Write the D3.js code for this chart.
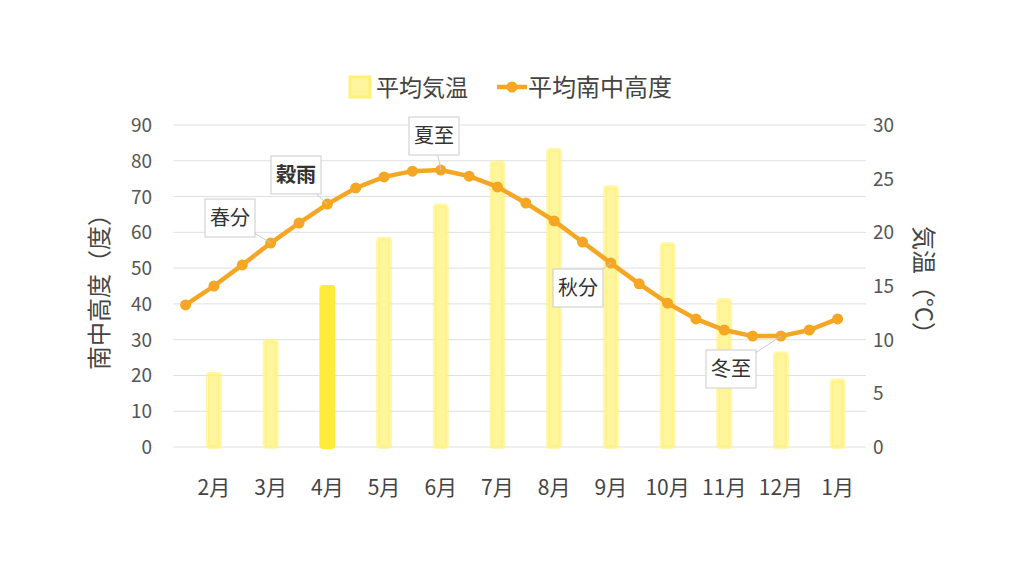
<!DOCTYPE html><html><head><meta charset="utf-8"><script src="https://cdn.jsdelivr.net/npm/d3@7"></script>
<style>body{margin:0;background:#fff;font-family:"Noto Sans CJK JP",sans-serif}</style></head><body><svg id="c" width="1024" height="576"></svg><script>
const months=["2月","3月","4月","5月","6月","7月","8月","9月","10月","11月","12月","1月"];
const temps=[6.8,9.9,14.9,19.4,22.5,26.5,27.7,24.2,18.9,13.7,8.7,6.2];
const altitude=[39.7,45,50.9,57,62.6,67.9,72.4,75.5,77.1,77.4,75.7,72.7,68.2,63.2,57.3,51.4,45.6,40.2,35.8,32.7,31,31,32.7,35.8];
const leftTicks=[0,10,20,30,40,50,60,70,80,90];
const rightTicks=[0,5,10,15,20,25,30];
const callouts=[{t:"春分",i:3,x:230,y:218,b:false},{t:"穀雨",i:5,x:296,y:175,b:true},{t:"夏至",i:9,x:434,y:136,b:false},{t:"秋分",i:15,x:578,y:288,b:false},{t:"冬至",i:21,x:731,y:369,b:false}];
const svg=d3.select("#c"),L=185.6,R=866,T=125,B=447;
const x=d3.scaleBand().domain(months).range([L,R]);
const xp=d3.scaleLinear().domain([0,1]).range([L,L+x.bandwidth()/2]);
const yl=d3.scaleLinear().domain([0,90]).range([B,T]);
const yr=d3.scaleLinear().domain([0,30]).range([B,T]);
svg.append("g").selectAll("line").data(leftTicks).join("line").attr("x1",L-12).attr("x2",R).attr("y1",d=>yl(d)).attr("y2",d=>yl(d)).attr("stroke","#e0e0e0");
svg.append("g").selectAll("text").data(leftTicks).join("text").attr("x",152).attr("y",d=>yl(d)+7).attr("text-anchor","end").attr("font-size",19).attr("fill","#555").text(d=>d);
svg.append("g").selectAll("text").data(rightTicks).join("text").attr("x",873).attr("y",d=>yr(d)+7).attr("font-size",19).attr("fill","#555").text(d=>d);
svg.append("g").selectAll("text").data(months).join("text").attr("x",d=>x(d)+x.bandwidth()/2).attr("y",495).attr("text-anchor","middle").attr("font-size",21).attr("fill","#444").text(d=>d);
svg.append("g").selectAll("rect").data(temps).join("rect").attr("x",(d,i)=>x(months[i])+x.bandwidth()/2-6).attr("width",12).attr("y",d=>yr(d)).attr("height",d=>B-yr(d)).attr("rx",2)
 .attr("fill",(d,i)=>i==2?"#ffeb3b":"#fff59d").attr("stroke",(d,i)=>i==2?"#ffeb3b":"#fff176").attr("stroke-opacity",(d,i)=>i==2?1:0.6).attr("stroke-width",4);
svg.append("path").datum(altitude).attr("d",d3.line().x((d,i)=>xp(i)).y(d=>yl(d))).attr("fill","none").attr("stroke","#f5a623").attr("stroke-width",4.5);
svg.append("g").selectAll("circle").data(altitude).join("circle").attr("cx",(d,i)=>xp(i)).attr("cy",d=>yl(d)).attr("r",5.5).attr("fill","#f5a623");
callouts.forEach(c=>{const px=xp(c.i),py=yl(altitude[c.i]);
 svg.append("line").attr("x1",c.x).attr("y1",c.y).attr("x2",px).attr("y2",py).attr("stroke","#ccc");
 svg.append("rect").attr("x",c.x-25).attr("y",c.y-19).attr("width",50).attr("height",38).attr("fill","#fff").attr("stroke","#ccc");
 svg.append("text").attr("x",c.x).attr("y",c.y+7).attr("text-anchor","middle").attr("font-size",20).attr("font-weight",c.b?"bold":"normal").attr("fill","#333").text(c.t);});
svg.append("text").attr("transform","translate(108,286) rotate(-90)").attr("text-anchor","middle").attr("font-size",24).attr("fill","#444").text("南中高度（度）");
svg.append("text").attr("transform","translate(915,286) rotate(90)").attr("text-anchor","middle").attr("font-size",24).attr("fill","#444").text("気温（°C）");
const lg=svg.append("g");
lg.append("rect").attr("x",350).attr("y",77).attr("width",20).attr("height",20).attr("fill","#fff59d").attr("stroke","#fff176").attr("stroke-width",3);
lg.append("text").attr("x",376).attr("y",96).attr("font-size",23).attr("fill","#444").text("平均気温");
lg.append("line").attr("x1",497).attr("x2",527).attr("y1",87).attr("y2",87).attr("stroke","#f5a623").attr("stroke-width",4.5);
lg.append("circle").attr("cx",512).attr("cy",87).attr("r",5.5).attr("fill","#f5a623");
lg.append("text").attr("x",528).attr("y",96).attr("font-size",24).attr("fill","#444").text("平均南中高度");
</script></body></html>
